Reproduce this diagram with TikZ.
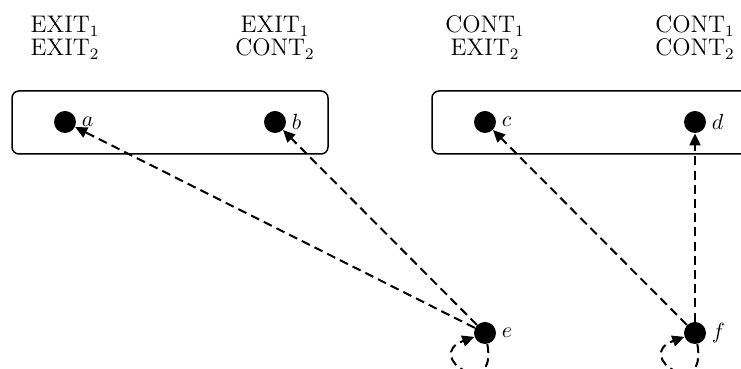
\documentclass[tikz,border=0pt]{standalone}
\usetikzlibrary{arrows.meta}
\begin{document}
\begin{tikzpicture}[x=0.5pt,y=0.5pt,
  dot/.style={circle,fill=black,inner sep=0pt,minimum size=11pt},
  grp/.style={draw,line width=0.75pt,rounded corners=3.5pt},
  lab/.style={font=\fontsize{11.5}{11.6}\selectfont,align=center,inner sep=0pt},
  nlab/.style={font=\fontsize{11}{11}\selectfont,inner sep=0pt},
  arr/.style={line width=1pt,dash pattern=on 4.5pt off 2.6pt,-{Triangle[length=6pt,width=5.5pt]}}]
\useasboundingbox (0,0) rectangle (741,369);
\clip (0,0) rectangle (741,369);
% groups
\draw[grp] (12,215) rectangle (328,278);
\draw[grp] (432,215) rectangle (770,278);
% headers
\node[lab] (h1) at (65,331) {$\mathrm{EXIT}_1$\\$\mathrm{EXIT}_2$};
\node[lab] (h2) at (275,331) {$\mathrm{EXIT}_1$\\$\mathrm{CONT}_2$};
\node[lab] (h3) at (485,331) {$\mathrm{CONT}_1$\\$\mathrm{EXIT}_2$};
\node[lab] (h4) at (695,331) {$\mathrm{CONT}_1$\\$\mathrm{CONT}_2$};
% nodes
\node[dot] (a) at (65,247) {};
\node[dot] (b) at (275,247) {};
\node[dot] (c) at (485,247) {};
\node[dot] (d) at (695,247) {};
\node[dot] (e) at (485,36) {};
\node[dot] (f) at (695,36) {};
\node[nlab,anchor=west] (la) at ([xshift=2.5pt]a.east) {$a$};
\node[nlab,anchor=west] (lb) at ([xshift=2.5pt]b.east) {$b$};
\node[nlab,anchor=west] (lc) at ([xshift=2.5pt]c.east) {$c$};
\node[nlab,anchor=west] (ld) at ([xshift=2.5pt]d.east) {$d$};
\node[nlab,anchor=west] (le) at ([xshift=2.5pt]e.east) {$e$};
\node[nlab,anchor=west] (lf) at ([xshift=2.5pt]f.east) {$f$};
% edges
\draw[arr] (e) -- (a);
\draw[arr] (e) -- (b);
\draw[arr] (f) -- (c);
\draw[arr] (f) -- (d);
\draw[arr] (e.-78) .. controls +(-80:30pt) and +(200:28pt) .. (e.200);
\draw[arr] (f.-78) .. controls +(-80:30pt) and +(200:28pt) .. (f.200);
\end{tikzpicture}
\end{document}
